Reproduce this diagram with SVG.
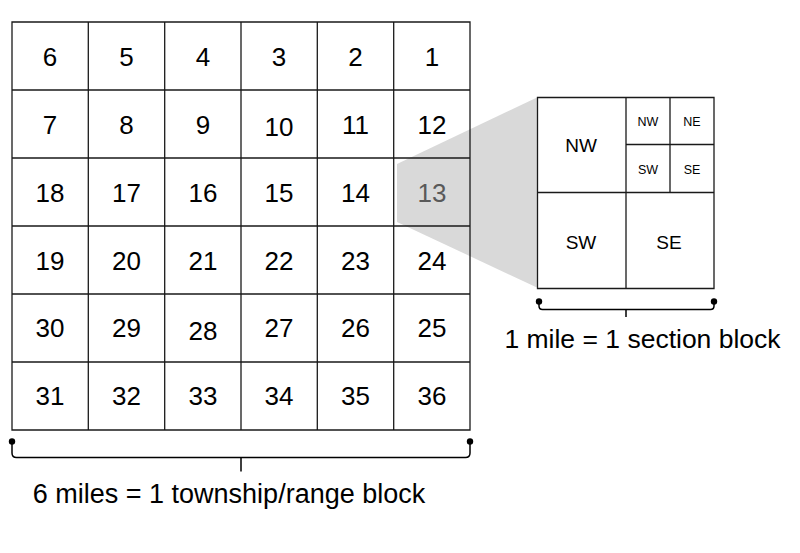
<svg xmlns="http://www.w3.org/2000/svg" width="800" height="553" viewBox="0 0 800 553">
<style>
.ln{stroke:#1a1a1a;stroke-width:1.3;fill:none}
.num{font-family:"Liberation Sans",Arial,sans-serif;font-size:26px;fill:#000;text-anchor:middle}
.lbl{font-family:"Liberation Sans",Arial,sans-serif;font-size:27px;fill:#000;text-anchor:middle}
.q{font-family:"Liberation Sans",Arial,sans-serif;font-size:19px;fill:#000;text-anchor:middle}
.qs{font-family:"Liberation Sans",Arial,sans-serif;font-size:12.5px;fill:#000;text-anchor:middle}
.br{stroke:#000;stroke-width:1.5;fill:none}
</style>
<rect width="800" height="553" fill="#fff"/>
<g id="zoom-wedge">
<polygon points="397,164 538,97 538,288 397,222" fill="#d9d9d9"/>
</g>
<g id="township">
<path class="ln" d="M12,22 H470 V430 H12 Z M88.3,22 V430 M164.7,22 V430 M241,22 V430 M317.3,22 V430 M393.7,22 V430 M12,90 H470 M12,158 H470 M12,226 H470 M12,294 H470 M12,362 H470"/>
<g id="sections">
<text class="num" x="50" y="66">6</text>
<text class="num" x="126.5" y="66">5</text>
<text class="num" x="203" y="66">4</text>
<text class="num" x="279" y="66">3</text>
<text class="num" x="355.5" y="66">2</text>
<text class="num" x="432" y="66">1</text>
<text class="num" x="50" y="134">7</text>
<text class="num" x="126.5" y="134">8</text>
<text class="num" x="203" y="134">9</text>
<text class="num" x="279" y="136">10</text>
<text class="num" x="355.5" y="134">11</text>
<text class="num" x="432" y="134">12</text>
<text class="num" x="50" y="202">18</text>
<text class="num" x="126.5" y="202">17</text>
<text class="num" x="203" y="202">16</text>
<text class="num" x="279" y="202">15</text>
<text class="num" x="355.5" y="202">14</text>
<text class="num" x="432" y="202" fill="#595959" style="fill:#595959">13</text>
<text class="num" x="50" y="270">19</text>
<text class="num" x="126.5" y="270">20</text>
<text class="num" x="203" y="270">21</text>
<text class="num" x="279" y="270">22</text>
<text class="num" x="355.5" y="270">23</text>
<text class="num" x="432" y="270">24</text>
<text class="num" x="50" y="337">30</text>
<text class="num" x="126.5" y="337">29</text>
<text class="num" x="203" y="340">28</text>
<text class="num" x="279" y="337">27</text>
<text class="num" x="355.5" y="337">26</text>
<text class="num" x="432" y="337">25</text>
<text class="num" x="50" y="405">31</text>
<text class="num" x="126.5" y="405">32</text>
<text class="num" x="203" y="405">33</text>
<text class="num" x="279" y="405">34</text>
<text class="num" x="355.5" y="405">35</text>
<text class="num" x="432" y="405">36</text>
</g>
</g>
<g id="section-detail">
<path class="ln" d="M537.5,97.5 H714 V288.5 H537.5 Z M626,97.5 V288.5 M537.5,192.5 H714 M670,97.5 V192.5 M626,144.5 H714"/>
<text class="q" x="581" y="152">NW</text>
<text class="q" x="581" y="249">SW</text>
<text class="q" x="669" y="249">SE</text>
<text class="qs" x="648" y="126">NW</text>
<text class="qs" x="692" y="126">NE</text>
<text class="qs" x="648" y="174">SW</text>
<text class="qs" x="692" y="174">SE</text>
</g>
<g id="connectors">
<circle cx="12" cy="441.5" r="3.2" fill="#000"/>
<circle cx="470" cy="441.5" r="3.2" fill="#000"/>
<path class="br" d="M12,441.5 V453 Q12,457.5 16.5,457.5 H465.5 Q470,457.5 470,453 V441.5 M241,457.5 V471.5"/>
<circle cx="539" cy="301.5" r="3.2" fill="#000"/>
<circle cx="714" cy="301.5" r="3.2" fill="#000"/>
<path class="br" d="M539,301.5 V306 Q539,309.5 542.5,309.5 H710.5 Q714,309.5 714,306 V301.5 M626,309.5 V317"/>
</g>
<g id="captions">
<text class="lbl" x="229" y="503">6 miles = 1 township/range block</text>
<text class="lbl" x="642.5" y="348" style="font-size:26.5px">1 mile = 1 section block</text>
</g>
</svg>
